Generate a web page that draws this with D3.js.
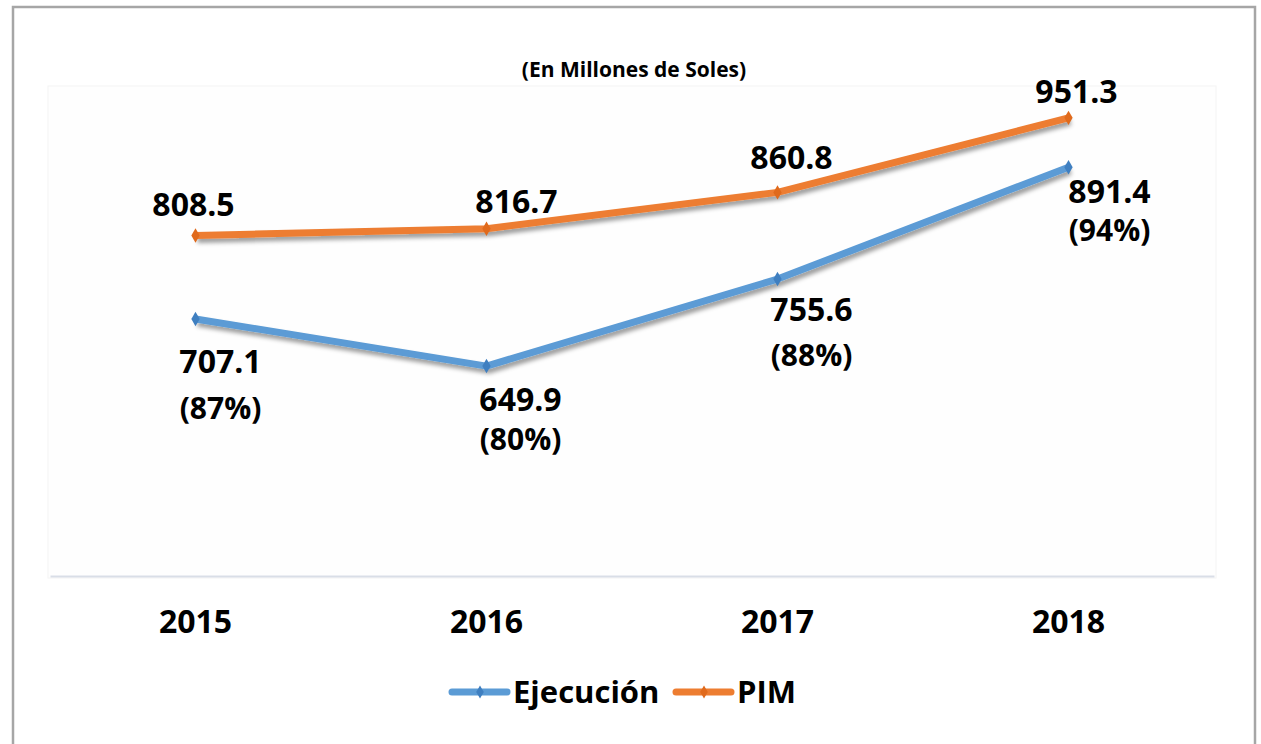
<!DOCTYPE html>
<html>
<head>
<meta charset="utf-8">
<script src="https://cdn.jsdelivr.net/npm/d3@7"></script>
<style>
  body { margin: 0; background: #fff; }
  svg { display: block; font-family: "Open Sans", "Noto Sans", sans-serif; }
</style>
</head>
<body>
<svg id="chart"></svg>
<script>
// Datos
const years = ["2015", "2016", "2017", "2018"];
const ejecucion = [707.1, 649.9, 755.6, 891.4];
const pim = [808.5, 816.7, 860.8, 951.3];
const avance = ["(87%)", "(80%)", "(88%)", "(94%)"];
const seriesNames = ["Ejecución", "PIM"];

// Desplazamiento de etiquetas (respecto al punto)
const pimOffsets = [[-2, -19], [30, -16], [14, -23], [8, -15]];
const ejeOffsets = [[25, 54], [34, 45], [34, 42], [41, 36]];
const pctGap = [46, 39, 45, 38];

const width = 1261, height = 744;
const plot = { left: 50, right: 1214, top: 86, bottom: 576 };

const svg = d3.select("#chart").attr("width", width).attr("height", height);

// Sombra de las líneas
const defs = svg.append("defs");
const f = defs.append("filter").attr("id", "shadow")
  .attr("x", "-10%").attr("y", "-20%").attr("width", "130%").attr("height", "160%");
f.append("feDropShadow").attr("dx", 2).attr("dy", 4).attr("stdDeviation", 2.2)
  .attr("flood-color", "#000").attr("flood-opacity", 0.38);

// Marco
svg.append("rect")
  .attr("x", 13).attr("y", 7).attr("width", 1242).attr("height", 760)
  .attr("fill", "#fff").attr("stroke", "#a6a6a6").attr("stroke-width", 2.5);

// Área de trazado
svg.append("rect")
  .attr("x", 48).attr("y", plot.top).attr("width", 1168).attr("height", plot.bottom - plot.top + 2)
  .attr("fill", "#fefefe").attr("stroke", "#f4f4f4").attr("stroke-width", 1);

// Escalas
const x = d3.scaleBand().domain(years).range([plot.left, plot.right]);
const y = d3.scaleLinear().domain([395, 990]).range([plot.bottom, plot.top]);
const cx = d => x(d) + x.bandwidth() / 2;

// Eje X
const xAxis = svg.append("g")
  .attr("transform", `translate(0,${plot.bottom})`)
  .call(d3.axisBottom(x).tickSize(0).tickPadding(34));
xAxis.select(".domain").attr("stroke", "#d9dee7").attr("stroke-width", 2);
xAxis.selectAll("text")
  .attr("font-size", 32).attr("font-weight", 700).attr("fill", "#000")
  .attr("font-family", "'Open Sans', sans-serif");

// Título
svg.append("text")
  .attr("x", 634).attr("y", 77).attr("text-anchor", "middle")
  .attr("font-size", 21).attr("font-weight", 700)
  .text("(En Millones de Soles)");

const line = d3.line().x((d, i) => cx(years[i])).y(d => y(d));
const diamond = d3.symbol().type(d3.symbolDiamond).size(60);

function drawSeries(values, color, markColor) {
  svg.append("path")
    .datum(values)
    .attr("d", line)
    .attr("fill", "none")
    .attr("stroke", color)
    .attr("stroke-width", 7)
    .attr("stroke-linejoin", "round")
    .attr("filter", "url(#shadow)");
  svg.append("g").selectAll("path")
    .data(values)
    .join("path")
    .attr("d", diamond)
    .attr("transform", (d, i) => `translate(${cx(years[i])},${y(d)})`)
    .attr("fill", markColor);
}

drawSeries(ejecucion, "#5b9bd5", "#3f7fc0");
drawSeries(pim, "#ed7d31", "#e06a1c");

// Etiquetas PIM
svg.append("g").selectAll("text")
  .data(pim)
  .join("text")
  .attr("x", (d, i) => cx(years[i]) + pimOffsets[i][0])
  .attr("y", (d, i) => y(d) + pimOffsets[i][1])
  .attr("text-anchor", "middle")
  .attr("font-size", 32).attr("font-weight", 700)
  .text(d => d3.format(".1f")(d));

// Etiquetas Ejecución
const eje = svg.append("g").selectAll("g")
  .data(ejecucion)
  .join("g")
  .attr("transform", (d, i) => `translate(${cx(years[i]) + ejeOffsets[i][0]},${y(d) + ejeOffsets[i][1]})`);
eje.append("text")
  .attr("text-anchor", "middle")
  .attr("font-size", 32).attr("font-weight", 700)
  .text(d => d3.format(".1f")(d));
eje.append("text")
  .attr("y", (d, i) => pctGap[i])
  .attr("text-anchor", "middle")
  .attr("font-size", 30).attr("font-weight", 700)
  .text((d, i) => avance[i]);

// Leyenda
const legendItems = [
  { name: seriesNames[0], color: "#5b9bd5", mark: "#3f7fc0", x: 452 },
  { name: seriesNames[1], color: "#ed7d31", mark: "#e06a1c", x: 676 }
];
const lg = svg.append("g").selectAll("g")
  .data(legendItems)
  .join("g")
  .attr("transform", d => `translate(${d.x},692)`);
lg.append("line")
  .attr("x1", 0).attr("x2", 55)
  .attr("stroke", d => d.color).attr("stroke-width", 7).attr("stroke-linecap", "round");
lg.append("path")
  .attr("d", d3.symbol().type(d3.symbolDiamond).size(50))
  .attr("transform", "translate(28,0)")
  .attr("fill", d => d.mark);
lg.append("text")
  .attr("x", 61).attr("y", 11)
  .attr("font-size", 31).attr("font-weight", 700)
  .text(d => d.name);
</script>
</body>
</html>
